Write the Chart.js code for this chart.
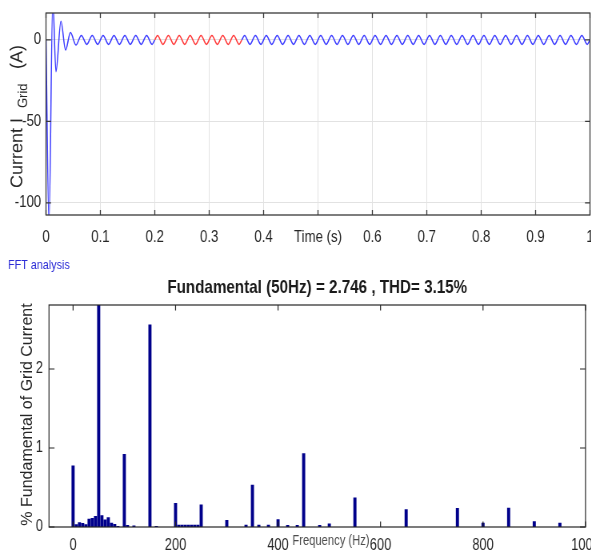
<!DOCTYPE html>
<html>
<head>
<meta charset="utf-8">
<script src="https://cdn.jsdelivr.net/npm/chart.js"></script>
<style>
  html, body { margin: 0; padding: 0; background: #fff; overflow: hidden; }
  .wrap { position: absolute; left: 0; transform: scaleX(0.8); transform-origin: 0 0; }
</style>
</head>
<body>
<div class="wrap" style="top:0"><canvas id="timeChart" width="739" height="250"></canvas></div>
<div class="wrap" style="top:255px"><canvas id="fftChart" width="739" height="303"></canvas></div>
<script>
// ---- time domain: grid current ----
var transientT = [0, 0.0055, 0.0125, 0.0183, 0.0275, 0.036, 0.045, 0.055]
var transientI = [0, -112, 24, -19.5, 11.5, -6.2, 4.5, -3.2]

var steadyT = [
  0.065, 0.075, 0.085, 0.095, 0.105, 0.115, 0.125, 0.135, 0.145, 0.155,
  0.165, 0.175, 0.185, 0.195, 0.2, 0.205, 0.215, 0.225, 0.235, 0.245,
  0.255, 0.265, 0.275, 0.285, 0.295, 0.305, 0.315, 0.325, 0.335, 0.345,
  0.355, 0.36, 0.365, 0.375, 0.385, 0.395, 0.405, 0.415, 0.425, 0.435,
  0.445, 0.455, 0.465, 0.475, 0.485, 0.495, 0.505, 0.515, 0.525, 0.535,
  0.545, 0.555, 0.565, 0.575, 0.585, 0.595, 0.605, 0.615, 0.625, 0.635,
  0.645, 0.655, 0.665, 0.675, 0.685, 0.695, 0.705, 0.715, 0.725, 0.735,
  0.745, 0.755, 0.765, 0.775, 0.785, 0.795, 0.805, 0.815, 0.825, 0.835,
  0.845, 0.855, 0.865, 0.875, 0.885, 0.895, 0.905, 0.915, 0.925, 0.935,
  0.945, 0.955, 0.965, 0.975, 0.985, 0.995, 1
]
var steadyI = [
  2.75, -2.75, 2.75, -2.75, 2.75, -2.75, 2.75, -2.75, 2.75, -2.75,
  2.75, -2.75, 2.75, -2.75, 0, 2.75, -2.75, 2.75, -2.75, 2.75,
  -2.75, 2.75, -2.75, 2.75, -2.75, 2.75, -2.75, 2.75, -2.75, 2.75,
  -2.75, 0, 2.75, -2.75, 2.75, -2.75, 2.75, -2.75, 2.75, -2.75,
  2.75, -2.75, 2.75, -2.75, 2.75, -2.75, 2.75, -2.75, 2.75, -2.75,
  2.75, -2.75, 2.75, -2.75, 2.75, -2.75, 2.75, -2.75, 2.75, -2.75,
  2.75, -2.75, 2.75, -2.75, 2.75, -2.75, 2.75, -2.75, 2.75, -2.75,
  2.75, -2.75, 2.75, -2.75, 2.75, -2.75, 2.75, -2.75, 2.75, -2.75,
  2.75, -2.75, 2.75, -2.75, 2.75, -2.75, 2.75, -2.75, 2.75, -2.75,
  2.75, -2.75, 2.75, -2.75, 2.75, -2.75, 0
]
var fftWindow = [0.2, 0.36]   // red part of the trace
var timeTicks = [0, 0.1, 0.2, 0.3, 0.4, 0.5, 0.6, 0.7, 0.8, 0.9, 1]
var currentTicks = [-100, -50, 0]

// ---- FFT spectrum (% of fundamental) ----
var fftFreq = [0, 6.25, 12.5, 18.75, 25, 31.25, 37.5, 43.75, 50, 56.25,
  62.5, 68.75, 75, 81.25, 87.5, 100, 106.25, 118.75, 150, 162.5,
  200, 206.25, 212.5, 218.75, 225, 231.25, 237.5, 243.75, 250, 300,
  337.5, 350, 362.5, 381.25, 400, 418.75, 437.5, 450, 481.25, 500,
  550, 650, 750, 800, 850, 900, 950]
var fftMag = [0.775, 0.03, 0.055, 0.045, 0.03, 0.1, 0.11, 0.135, 100, 0.145,
  0.09, 0.12, 0.05, 0.035, 0.01, 0.92, 0.02, 0.015, 2.56, 0.01,
  0.3, 0.025, 0.025, 0.025, 0.025, 0.025, 0.025, 0.025, 0.28, 0.085,
  0.025, 0.53, 0.025, 0.025, 0.095, 0.02, 0.02, 0.93, 0.02, 0.04,
  0.37, 0.22, 0.235, 0.05, 0.24, 0.07, 0.05]
var freqTicks = [0, 200, 400, 600, 800, 1000]
var pctTicks = [0, 1, 2]

var S = 0.8  // horizontal squeeze of the whole figure
var FONT = '"Liberation Sans", Arial, sans-serif'
Chart.defaults.font.family = FONT
Chart.defaults.color = '#262626'

// box around the axes with inward ticks, matlab style
var boxPlugin = {
  id: 'matlabBox',
  afterDatasetsDraw: function(chart, args, opts) {
    var ctx = chart.ctx, a = chart.chartArea, sx = chart.scales.x, sy = chart.scales.y
    ctx.save()
    ctx.strokeStyle = opts.color
    ctx.lineWidth = opts.width
    ctx.beginPath()
    sx.ticks.forEach(function(t){
      var px = sx.getPixelForValue(t.value)
      ctx.moveTo(px, a.bottom); ctx.lineTo(px, a.bottom - opts.len)
      ctx.moveTo(px, a.top); ctx.lineTo(px, a.top + opts.len)
    })
    sy.ticks.forEach(function(t){
      var py = sy.getPixelForValue(t.value)
      ctx.moveTo(a.left, py); ctx.lineTo(a.left + opts.len / S, py)
      ctx.moveTo(a.right, py); ctx.lineTo(a.right - opts.len / S, py)
    })
    ctx.stroke()
    ctx.strokeRect(a.left, a.top, a.right - a.left, a.bottom - a.top)
    ctx.restore()
  }
}

function textPlugin(items) {
  return {
    id: 'extraText',
    afterDraw: function(chart) {
      var ctx = chart.ctx
      items.forEach(function(it){
        ctx.save()
        ctx.font = it.font
        ctx.fillStyle = it.color || '#262626'
        ctx.textAlign = it.align || 'left'
        ctx.textBaseline = it.baseline || 'alphabetic'
        ctx.translate(it.x / S, it.y)
        if (it.rotate) { ctx.scale(1 / S, 1); ctx.rotate(-Math.PI / 2) }
        ctx.fillText(it.text, 0, 0)
        ctx.restore()
      })
    }
  }
}

function setTicks(list) {
  return function(scale){ scale.ticks = list.map(function(v){ return {value: v} }) }
}

// ---------- top chart ----------
var wave = transientT.concat(steadyT).map(function(t, i){
  return {x: t, y: transientI.concat(steadyI)[i]}
})

new Chart(document.getElementById('timeChart'), {
  type: 'line',
  data: {
    datasets: [{
      data: wave,
      borderColor: '#3c3cff',
      borderWidth: 1.5,
      pointRadius: 0,
      cubicInterpolationMode: 'monotone',
      segment: {
        borderColor: function(c){
          if (c.p0.parsed.x >= fftWindow[0] && c.p1.parsed.x <= fftWindow[1]) return '#ff3c3c'
          return undefined
        }
      }
    }]
  },
  options: {
    responsive: false, animation: false, devicePixelRatio: 1,
    layout: { padding: { top: 13, right: 1.5, left: 0, bottom: 0 } },
    plugins: {
      legend: { display: false }, tooltip: { enabled: false },
      matlabBox: { color: '#3a3a3a', width: 1.3, len: 5 }
    },
    scales: {
      x: {
        type: 'linear', min: 0, max: 1, offset: false,
        afterBuildTicks: setTicks(timeTicks),
        afterFit: function(s){ s.height = 35; s.paddingLeft = 0; s.paddingRight = 0 },
        grid: { color: '#e2e2e2', drawTicks: false },
        border: { display: false },
        ticks: {
          padding: 12.6, font: { size: 16.5 }, maxRotation: 0, autoSkip: false,
          callback: function(v){ return v === 0.5 ? 'Time (s)' : String(v) }
        }
      },
      y: {
        min: -107.4, max: 16.5,
        afterBuildTicks: setTicks(currentTicks),
        afterFit: function(s){ s.width = 57.5; s.paddingTop = 0; s.paddingBottom = 0 },
        grid: { color: '#e2e2e2', drawTicks: false },
        border: { display: false },
        ticks: { padding: 6, font: { size: 16.5 }, callback: function(v){ return String(v) } }
      }
    }
  },
  plugins: [boxPlugin, textPlugin([
    { text: 'Current I', font: '18px ' + FONT, x: 22, y: 188, rotate: true },
    { text: 'Grid', font: '13px ' + FONT, x: 27.5, y: 108, rotate: true },
    { text: '(A)', font: '18px ' + FONT, x: 22, y: 69, rotate: true }
  ])]
})

// ---------- bottom chart ----------
new Chart(document.getElementById('fftChart'), {
  type: 'bar',
  data: {
    datasets: [{
      data: fftFreq.map(function(f, i){ return {x: f, y: fftMag[i]} }),
      backgroundColor: '#00008b',
      borderWidth: 0,
      barThickness: 3.25
    }]
  },
  options: {
    responsive: false, animation: false, devicePixelRatio: 1,
    layout: { padding: { top: 0, right: 7.1, left: 0, bottom: 0 } },
    plugins: {
      legend: { display: false }, tooltip: { enabled: false },
      title: {
        display: true, fullSize: false,
        text: 'Fundamental (50Hz) = 2.746 , THD= 3.15%',
        font: { size: 19, weight: 'bold' }, color: '#1a1a1a',
        padding: { top: 21.6, bottom: 5.6 }
      },
      matlabBox: { color: '#262626', width: 1.2, len: 5.5 }
    },
    scales: {
      x: {
        type: 'linear', min: -47, max: 1000, offset: false,
        afterBuildTicks: setTicks(freqTicks),
        afterFit: function(s){ s.height = 31; s.paddingLeft = 0; s.paddingRight = 0 },
        grid: { display: false, drawTicks: false },
        border: { display: false },
        ticks: { padding: 9.4, font: { size: 16 }, maxRotation: 0, autoSkip: false,
          callback: function(v){ return String(v) } }
      },
      y: {
        min: 0, max: 2.81,
        afterBuildTicks: setTicks(pctTicks),
        afterFit: function(s){ s.width = 61.25; s.paddingTop = 0; s.paddingBottom = 0 },
        grid: { display: false, drawTicks: false },
        border: { display: false },
        ticks: { padding: 7.5, font: { size: 16 }, callback: function(v){ return String(v) } }
      }
    }
  },
  plugins: [boxPlugin, textPlugin([
    { text: 'FFT analysis', font: '13.5px ' + FONT, color: '#2d2dd6', x: 8, y: 10, baseline: 'middle' },
    { text: 'Frequency (Hz)', font: '14px ' + FONT, color: '#4d4d4d', x: 331, y: 286, align: 'center', baseline: 'middle' },
    { text: '% Fundamental of Grid Current', font: '16px ' + FONT, x: 32, y: 159.5, align: 'center', rotate: true }
  ])]
})
</script>
</body>
</html>
